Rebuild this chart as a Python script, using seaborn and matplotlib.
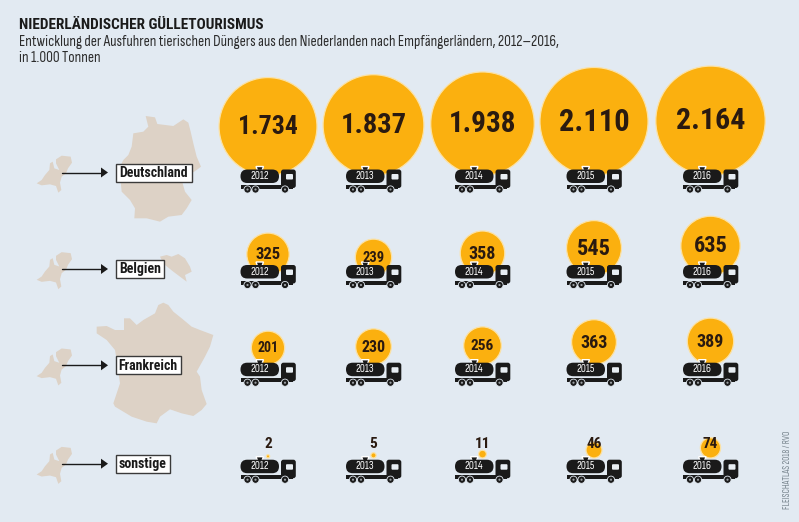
import matplotlib
matplotlib.use("Agg")
import matplotlib.pyplot as plt
import numpy as np
import pandas as pd
import seaborn as sns
from matplotlib.patches import Circle, FancyBboxPatch, Polygon, Rectangle

years = [2012, 2013, 2014, 2015, 2016]
countries = ["Deutschland", "Belgien", "Frankreich", "sonstige"]
deutschland = [1734, 1837, 1938, 2110, 2164]
belgien = [325, 239, 358, 545, 635]
frankreich = [201, 230, 256, 363, 389]
sonstige = [2, 5, 11, 46, 74]

title = "NIEDERLÄNDISCHER GÜLLETOURISMUS"
subtitle = ("Entwicklung der Ausfuhren tierischen Düngers aus den Niederlanden "
            "nach Empfängerländern, 2012–2016,\nin 1.000 Tonnen")
credit = "FLEISCHATLAS 2018 / RVO"

# layout in pixels of the 799x522 picture
COL_X = [268, 373.5, 482.5, 594, 710.5]
TANK_TOP = [169.5, 265, 362.7, 459.7]
BUBBLE_BASE = [175.5, 275.5, 364.5, 458]
ARROW_Y = [172.5, 269, 365.3, 463.7]
BOX_RIGHT = [192, 164, 181, 170]
R_PER_SQRT = 1.176
LABEL_SIZES = [
    [18.5, 20.5, 21, 22, 21.5],
    [12, 10.5, 13, 16, 16],
    [10, 11.5, 11, 13, 13],
    [11, 11, 11, 11, 11],
]

BG = "#E2EAF2"
MAP = "#DDD2C6"
GOLD = "#FBB00F"
HALO = "#FBE2A6"
INK = "#1A1A1A"
BROWN = "#2A1A10"
NARROW = ["Sofia Sans Condensed", "Roboto Condensed", "DejaVu Sans"]

# outlines
NL = [(150, 490), (158, 485), (163, 505), (178, 510), (168, 490), (168, 478), (185, 467), (212, 470),
      (216, 488), (204, 505), (198, 520), (185, 530), (180, 548), (184, 570), (175, 578), (168, 558),
      (150, 553), (125, 556), (110, 550), (125, 540), (135, 525), (148, 510)]
GERMANY = [(437, 348), (465, 352), (472, 372), (520, 378), (550, 358), (565, 368), (572, 395), (580, 430),
           (590, 470), (603, 500), (590, 510), (545, 540), (555, 575), (575, 600), (560, 625), (545, 645),
           (505, 650), (480, 665), (440, 655), (403, 655), (405, 625), (390, 600), (365, 575), (362, 545),
           (350, 520), (370, 480), (385, 465), (395, 440), (400, 400), (430, 395), (445, 380)]
BELGIUM = [(390, 50), (410, 45), (425, 50), (445, 42), (465, 55), (480, 80), (485, 95), (465, 105),
           (470, 125), (450, 110), (430, 95), (405, 75), (395, 60)]
FRANCE = [(490, 128), (505, 135), (520, 155), (545, 175), (575, 200), (600, 210), (640, 225), (630, 260),
          (615, 290), (590, 335), (600, 350), (605, 390), (620, 432), (605, 450), (580, 468), (545, 460),
          (510, 448), (480, 470), (470, 490), (440, 485), (395, 470), (345, 440), (340, 430), (360, 370),
          (350, 300), (345, 270), (320, 240), (290, 220), (290, 200), (320, 198), (345, 210), (372, 210),
          (372, 175), (390, 175), (410, 195), (430, 180), (465, 160), (475, 135)]


def crop_points(points, dx=0, dy=0):
    # zoom crops were 3x, so bring them back to picture pixels
    return np.array(points) / 3 + [dx, dy]


def draw_truck(ax, cx, top, year):
    left = cx - 27.5
    ax.add_patch(Polygon([(left + 15.5, top - 3), (left + 23, top - 3), (left + 21.5, top + 1), (left + 17, top + 1)],
                         fc=INK, zorder=3))
    ax.add_patch(FancyBboxPatch((left, top), 38.5, 13.5, boxstyle="round,pad=0,rounding_size=6.7",
                                fc=INK, ec="none", zorder=3))
    ax.add_patch(FancyBboxPatch((left + 40.5, top), 14.8, 18.5, boxstyle="round,pad=0,rounding_size=2.5",
                                fc=INK, ec="none", zorder=3))
    ax.add_patch(FancyBboxPatch((left + 45.5, top + 4.5), 7, 5.5, boxstyle="round,pad=0,rounding_size=1",
                                fc="#E8EEF3", ec="none", zorder=4))
    ax.add_patch(Rectangle((left, top + 15.5), 52, 4, fc=INK, ec="none", zorder=3))
    for wx in (7, 15, 44.5):
        ax.add_patch(Circle((left + wx, top + 20), 3.6, fc=INK, ec=BG, lw=0.6, zorder=4))
        ax.add_patch(Circle((left + wx, top + 20), 1.1, fc="#9A9FA3", ec="none", zorder=5))
    ax.text(left + 19.2, top + 6.7, str(year), color="white", fontsize=8.2, family=NARROW,
            ha="center", va="center", zorder=5)


def draw_route(ax, y, name, right):
    nl = crop_points(NL, 0, y - 172.5)
    ax.add_patch(Polygon(nl, fc=MAP, ec="none", zorder=1))
    ax.plot([62, 102], [y, y], color=INK, lw=1, zorder=2)
    ax.add_patch(Polygon([(101, y - 5), (108, y), (101, y + 5)], fc=INK, ec="none", zorder=2))
    ax.add_patch(Rectangle((115.5, y - 9), right - 115.5, 18, fc="white", ec="#3A3A3A", lw=1, zorder=3))
    ax.text((115.5 + right) / 2, y + 0.3, name, color=INK, fontsize=10, fontweight="bold",
            ha="center", va="center", zorder=4)


def main():
    sns.set_theme(style="white")
    plt.rcParams["font.family"] = ["Roboto Condensed", "Liberation Sans Narrow", "DejaVu Sans"]

    rows = [deutschland, belgien, frankreich, sonstige]
    records = []
    for r, values in enumerate(rows):
        for c, value in enumerate(values):
            radius = R_PER_SQRT * np.sqrt(value)
            records.append({"row": r, "col": c, "value": value,
                            "x": COL_X[c], "y": BUBBLE_BASE[r] - radius})
    frame = pd.DataFrame(records)

    fig = plt.figure(figsize=(7.99, 5.22), dpi=100, facecolor=BG)
    ax = fig.add_axes([0, 0, 1, 1])
    ax.set_facecolor(BG)

    # area follows the value: s is in pt^2, so this is the biggest bubble's diameter squared
    max_value = frame["value"].max()
    max_size = (2 * R_PER_SQRT * np.sqrt(max_value) * 72 / 100) ** 2
    sns.scatterplot(data=frame, x="x", y="y", size="value", sizes=(0, max_size), size_norm=(0, max_value),
                    color=GOLD, edgecolor=HALO, linewidth=0.9, legend=False, zorder=2, ax=ax)

    ax.set_xlim(0, 799)
    ax.set_ylim(522, 0)
    ax.set_axis_off()

    ax.add_patch(Polygon(crop_points(GERMANY), fc=MAP, ec="none", zorder=1))
    ax.add_patch(Polygon(crop_points(BELGIUM, 30, 240), fc=MAP, ec="none", zorder=1))
    ax.add_patch(Polygon(crop_points(FRANCE, 0, 260), fc=MAP, ec="none", zorder=1))

    for r, name in enumerate(countries):
        draw_route(ax, ARROW_Y[r], name, BOX_RIGHT[r])
        for c, year in enumerate(years):
            draw_truck(ax, COL_X[c], TANK_TOP[r], year)

    for _, cell in frame.iterrows():
        r, c = int(cell["row"]), int(cell["col"])
        label = f"{int(cell['value']):,}".replace(",", ".")
        label_y = 444 if r == 3 else cell["y"] + 0.5
        ax.text(COL_X[c], label_y, label, color=BROWN, fontsize=LABEL_SIZES[r][c], fontweight="bold",
                ha="center", va="center", zorder=6)

    ax.text(19, 25, title, color=INK, fontsize=11, fontweight="bold", va="center")
    ax.text(19, 50, subtitle, color="#2B2B2B", fontsize=11, family=NARROW, va="center", linespacing=1.15)
    ax.text(787, 469.5, credit, color="#76838C", fontsize=6.5, family=NARROW, rotation=90, ha="center", va="center")

    fig.savefig("out.png", dpi=100, facecolor=BG)


if __name__ == "__main__":
    main()
